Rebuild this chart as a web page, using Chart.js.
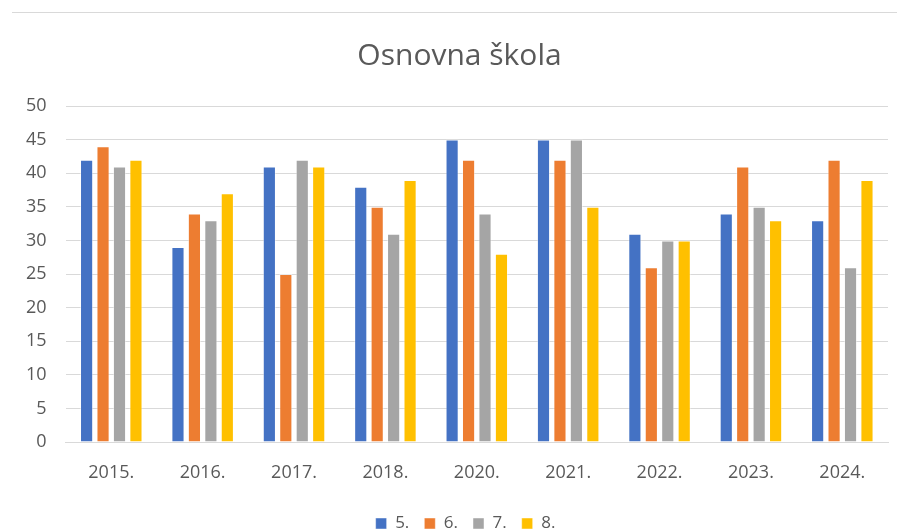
<!DOCTYPE html>
<html>
<head>
<meta charset="utf-8">
<script src="https://cdn.jsdelivr.net/npm/chart.js@4/dist/chart.umd.min.js"></script>
<style>
    body { margin: 0; background: #fff; }
    #wrap { position: relative; width: 897px; height: 531px; overflow: hidden; }
    #topline { position: absolute; left: 12px; top: 12px; width: 885px; height: 1px; background: #d9d9d9; }
    canvas { position: absolute; left: 0; top: 0; }
</style>
</head>
<body>
<div id="wrap">
    <div id="topline"></div>
    <canvas id="myChart" width="897" height="531"></canvas>
</div>
<script>
const years = ['2015.', '2016.', '2017.', '2018.', '2020.', '2021.', '2022.', '2023.', '2024.'];
const grade5 = [42, 29, 41, 38, 45, 45, 31, 34, 33];
const grade6 = [44, 34, 25, 35, 42, 42, 26, 41, 42];
const grade7 = [41, 33, 42, 31, 34, 45, 30, 35, 26];
const grade8 = [42, 37, 41, 39, 28, 35, 30, 33, 39];
const seriesNames = ['5.', '6.', '7.', '8.'];

const textColor = '#595959';
const gridColor = '#d9d9d9';
const font = "'Open Sans', sans-serif";

function bars(label, data, color) {
    return {
        label: label,
        data: data,
        backgroundColor: color,
        borderColor: 'rgba(255,255,255,0.45)',
        borderWidth: 1,
        categoryPercentage: 0.72,
        barPercentage: 0.8
    };
}

// title and legend in the original sit a bit right of the canvas centre
const nudgeBoxes = {
    id: 'nudgeBoxes',
    afterLayout(chart) {
        if (chart.titleBlock) {
            chart.titleBlock.left += 12;
            chart.titleBlock.right += 12;
        }
        if (chart.legend) {
            chart.legend.left += 18;
            chart.legend.right += 18;
            chart.legend.top += 3;
            chart.legend.bottom += 3;
        }
    }
};

const ctx = document.getElementById('myChart');
new Chart(ctx, {
    type: 'bar',
    data: {
        labels: years,
        datasets: [
            bars(seriesNames[0], grade5, '#4472C4'),
            bars(seriesNames[1], grade6, '#ED7D31'),
            bars(seriesNames[2], grade7, '#A5A5A5'),
            bars(seriesNames[3], grade8, '#FFC000')
        ]
    },
    plugins: [nudgeBoxes],
    options: {
        responsive: false,
        animation: false,
        layout: { padding: { left: 7, right: 9, top: 38, bottom: -8 } },
        plugins: {
            title: {
                display: true,
                text: 'Osnovna škola',
                color: textColor,
                font: { family: font, size: 30, weight: 'normal' },
                padding: { top: 0, bottom: 32 }
            },
            legend: {
                position: 'bottom',
                labels: {
                    color: textColor,
                    font: { family: font, size: 17 },
                    boxWidth: 11,
                    boxHeight: 11,
                    padding: 15
                }
            },
            tooltip: { enabled: false }
        },
        scales: {
            x: {
                grid: { display: false, drawTicks: false },
                border: { color: gridColor },
                ticks: { color: textColor, font: { family: font, size: 18 }, padding: 20 },
                afterFit: (scale) => { scale.height = 55; }
            },
            y: {
                min: 0,
                max: 50,
                ticks: { stepSize: 5, color: textColor, font: { family: font, size: 18 }, padding: 19 },
                grid: { color: gridColor, drawTicks: false },
                border: { display: false }
            }
        }
    }
});
</script>
</body>
</html>
